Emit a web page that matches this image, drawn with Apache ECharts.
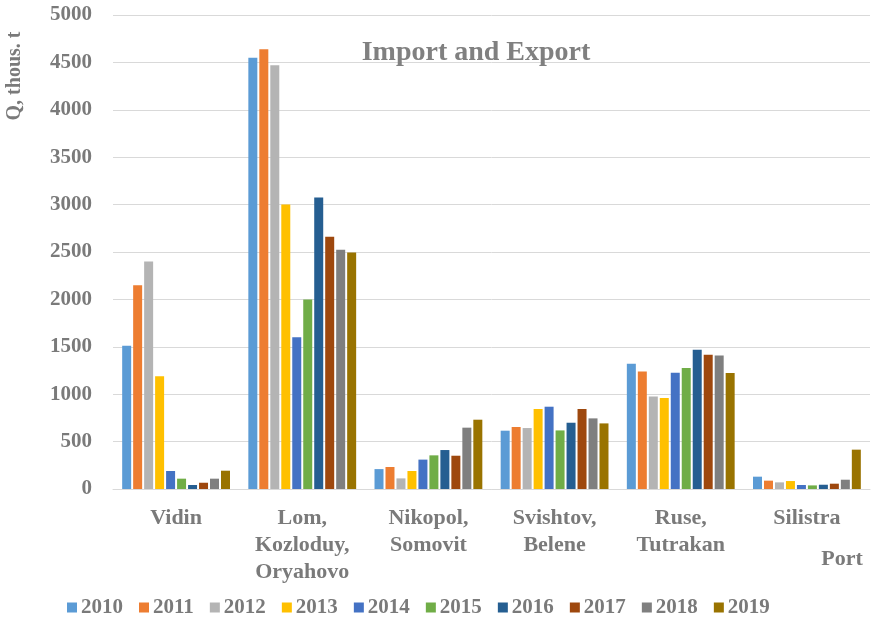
<!DOCTYPE html>
<html><head><meta charset="utf-8">
<script src="https://cdn.jsdelivr.net/npm/echarts@6/dist/echarts.min.js"></script>
<style>html,body{margin:0;padding:0;background:#fff}#c{width:874px;height:619px}</style>
</head><body><div id="c"></div>
<script>
const categories = ['Vidin', 'Lom,\nKozloduy,\nOryahovo', 'Nikopol,\nSomovit', 'Svishtov,\nBelene', 'Ruse,\nTutrakan', 'Silistra'];
const years = ['2010','2011','2012','2013','2014','2015','2016','2017','2018','2019'];
const v2010 = [1510, 4550, 210, 615, 1320, 130];
const v2011 = [2150, 4640, 232, 654, 1240, 88];
const v2012 = [2400, 4470, 112, 643, 975, 70];
const v2013 = [1190, 3000, 190, 844, 960, 84];
const v2014 = [190, 1600, 310, 868, 1227, 42];
const v2015 = [109, 2000, 355, 618, 1276, 38];
const v2016 = [42, 3075, 411, 699, 1469, 45];
const v2017 = [66, 2660, 351, 844, 1417, 56];
const v2018 = [109, 2525, 647, 745, 1409, 98];
const v2019 = [193, 2495, 731, 692, 1224, 415];
const yTicks = [0, 500, 1000, 1500, 2000, 2500, 3000, 3500, 4000, 4500, 5000];
const colors = ['#5B9BD5','#ED7D31','#B4B4B4','#FFC000','#4472C4','#70AD47','#255E91','#9E480E','#7F7F7F','#997300'];
const allValues = [v2010,v2011,v2012,v2013,v2014,v2015,v2016,v2017,v2018,v2019];

const font = '"Liberation Serif", "Times New Roman", serif';
const textColor = '#7a7a7a';
const chart = echarts.init(document.getElementById('c'), null, {renderer:'canvas'});
chart.setOption({
  animation: false,
  color: colors,
  title: {
    text: 'Import and Export', left: 471, top: 34, textAlign: 'center',
    textStyle: {fontFamily: font, fontWeight: 'bold', fontSize: 28, color: '#808080'}
  },
  legend: {
    data: years, left: 62, top: 592, itemWidth: 10, itemHeight: 10, itemGap: 16,
    icon: 'rect',
    textStyle: {fontFamily: font, fontWeight: 'bold', fontSize: 21, color: textColor, padding: [0,0,0,-1]}
  },
  grid: {left: 113, top: 15, width: 757, height: 474},
  xAxis: {
    type: 'category', data: categories,
    axisLine: {lineStyle: {color: '#d9d9d9', width: 1}},
    axisTick: {show: false},
    axisLabel: {interval: 0, margin: 16, lineHeight: 27, fontFamily: font, fontWeight: 'bold', fontSize: 22, color: textColor, verticalAlign: 'top'}
  },
  yAxis: {
    type: 'value', min: yTicks[0], max: yTicks[yTicks.length-1], interval: 500,
    axisLine: {show: false}, axisTick: {show: false},
    splitLine: {lineStyle: {color: '#d9d9d9', width: 1}},
    axisLabel: {margin: 21, fontFamily: font, fontWeight: 'bold', fontSize: 21, color: textColor,
      formatter: v => String(v)}
  },
  graphic: [
    {type: 'text', x: 15, y: 76, rotation: Math.PI/2,
      style: {text: 'Q, thous. t', fontFamily: font, fontWeight: 'bold', fontSize: 20, fill: textColor, align: 'center', verticalAlign: 'middle'}},
    {type: 'text', x: 842, y: 559,
      style: {text: 'Port', fontFamily: font, fontWeight: 'bold', fontSize: 22, fill: textColor, align: 'center', verticalAlign: 'middle'}}
  ],
  series: years.map((y, i) => ({
    name: y, type: 'bar', data: allValues[i],
    barWidth: 9, barGap: '22%',
    itemStyle: {color: colors[i]}
  }))
});
</script></body></html>
